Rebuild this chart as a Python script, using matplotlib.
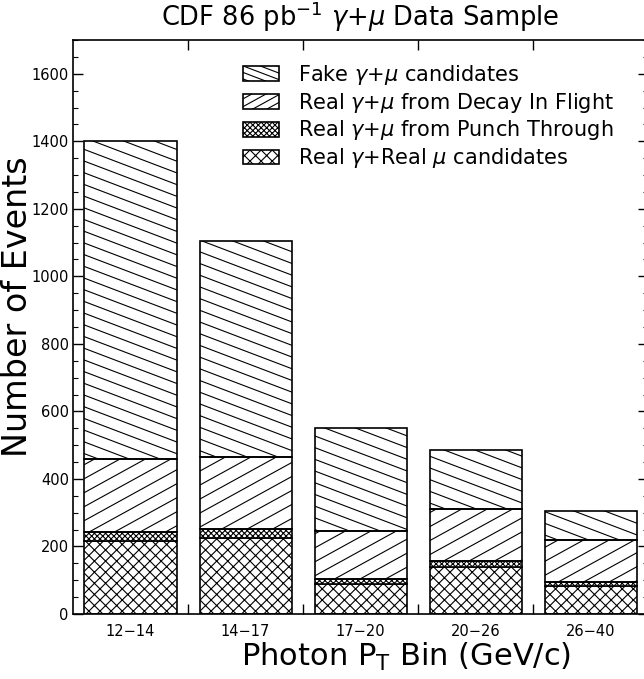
import numpy as np
import matplotlib
matplotlib.use("Agg")
import matplotlib.pyplot as plt
from matplotlib.collections import LineCollection
from matplotlib.patches import Rectangle
from matplotlib.legend_handler import HandlerBase
from matplotlib.ticker import MultipleLocator
from matplotlib.transforms import IdentityTransform

# photon pT bins and stacked event counts (bottom -> top)
bins = ["12\u221214", "14\u221217", "17\u221220", "20\u221226", "26\u221240"]
real = [217, 225, 90, 140, 84]
punch = [27, 27, 15, 18, 12]
decay = [214, 213, 142, 153, 122]
fake = [942, 640, 303, 174, 87]
labels = [r"Fake $\gamma$+$\mu$ candidates",
          r"Real $\gamma$+$\mu$ from Decay In Flight",
          r"Real $\gamma$+$\mu$ from Punch Through",
          r"Real $\gamma$+Real $\mu$ candidates"]

plt.rcParams["hatch.linewidth"] = 0.8
FAKE_HATCH = (-0.38, 11.7)   # slope, vertical spacing (px)
DECAY_HATCH = (0.55, 14.0)
REAL_HATCH = "xxx"
PUNCH_HATCH = "x" * 6


def hatch_segments(x0, y0, x1, y1, slope, step, phase=0.0):
    lo = y0 - max(slope * x0, slope * x1)
    hi = y1 - min(slope * x0, slope * x1)
    k0 = np.floor((lo - phase) / step)
    segs = []
    for c in phase + step * np.arange(k0, k0 + (hi - lo) / step + 2):
        segs.append([(x0, slope * x0 + c), (x1, slope * x1 + c)])
    return segs


class LineHatch(HandlerBase):
    def __init__(self, slope, step):
        super().__init__()
        self.slope, self.step = slope, step

    def create_artists(self, legend, orig, xd, yd, w, h, fontsize, trans):
        rect = Rectangle((-xd, -yd), w, h, facecolor="none", edgecolor="black",
                         lw=1.2, transform=trans)
        segs = hatch_segments(-xd, -yd, -xd + w, -yd + h, self.slope,
                              self.step * 0.4, phase=1.5)
        lc = LineCollection(segs, colors="black", lw=0.8, transform=trans)
        lc.set_clip_path(rect)
        return [lc, rect]


fig = plt.figure(figsize=(6.44, 6.79), dpi=100)
ax = fig.add_axes([73 / 644, 65 / 679, 575 / 644, 574 / 679])
x = np.arange(len(bins))
w = 0.8

b_real = ax.bar(x, real, w, facecolor="white", edgecolor="black", lw=1.2,
                hatch=REAL_HATCH, zorder=2)
bot = np.array(real)
b_punch = ax.bar(x, punch, w, bottom=bot, facecolor="white", edgecolor="black",
                 lw=1.2, hatch=PUNCH_HATCH, zorder=2)
bot = bot + punch
b_decay = ax.bar(x, decay, w, bottom=bot, facecolor="none", edgecolor="black",
                 lw=1.2, zorder=2)
bot = bot + decay
b_fake = ax.bar(x, fake, w, bottom=bot, facecolor="none", edgecolor="black",
                lw=1.2, zorder=2)

ax.set_xlim(-0.5, 4.5)
ax.set_ylim(0, 1700)

# custom shallow-angle hatching, clipped to each bar
x0, y0, x1, y1 = ax.bbox.extents
for bars, (slope, step) in [(b_fake, FAKE_HATCH), (b_decay, DECAY_HATCH)]:
    for p in bars.patches:
        lc = LineCollection(hatch_segments(x0, y0, x1, y1, slope, step),
                            colors="black", lw=0.8, transform=IdentityTransform(),
                            zorder=1)
        ax.add_collection(lc)
        lc.set_clip_path(p)

ax.set_xticks([0.5, 1.5, 2.5, 3.5])
ax.set_xticks(x, minor=True)
ax.set_xticklabels(bins, minor=True)
ax.tick_params(axis="x", which="major", direction="in", length=7.5, width=1,
               top=True, bottom=True, labelbottom=False)
ax.tick_params(axis="x", which="minor", length=0, labelsize=10.5, pad=7)
ax.yaxis.set_major_locator(MultipleLocator(200))
ax.yaxis.set_minor_locator(MultipleLocator(50))
ax.tick_params(axis="y", which="major", direction="in", length=7.5, width=1,
               left=True, right=True, labelsize=10.5, pad=3)
ax.tick_params(axis="y", which="minor", direction="in", length=3.6, width=0.8,
               left=True, right=True)
for s in ax.spines.values():
    s.set_linewidth(1.2)

ax.set_ylabel("Number of Events", fontsize=24, va="center")
ax.yaxis.set_label_coords(-0.097, 0.535)
ax.set_xlabel(r"Photon P$_\mathregular{T}$ Bin (GeV/c)", fontsize=22, va="center")
ax.xaxis.set_label_coords(0.58, -0.075)
ax.set_title(r"CDF 86 pb$^{-1}$ $\gamma$+$\mu$ Data Sample", fontsize=18.5, pad=10)

h_fake = Rectangle((0, 0), 1, 1)
h_decay = Rectangle((0, 0), 1, 1)
h_punch = Rectangle((0, 0), 1, 1, facecolor="white", edgecolor="black", lw=1.2,
                    hatch=PUNCH_HATCH)
h_real = Rectangle((0, 0), 1, 1, facecolor="white", edgecolor="black", lw=1.2,
                   hatch=REAL_HATCH)
ax.legend([h_fake, h_decay, h_punch, h_real], labels,
          handler_map={h_fake: LineHatch(*FAKE_HATCH), h_decay: LineHatch(*DECAY_HATCH)},
          loc="upper left", bbox_to_anchor=(243 / 644, 1 - 63 / 679),
          bbox_transform=fig.transFigure, frameon=False, fontsize=15,
          handlelength=1.75, handleheight=0.7, handletextpad=0.9,
          labelspacing=0.18, borderpad=0, borderaxespad=0)

fig.savefig("out.png", dpi=100)
